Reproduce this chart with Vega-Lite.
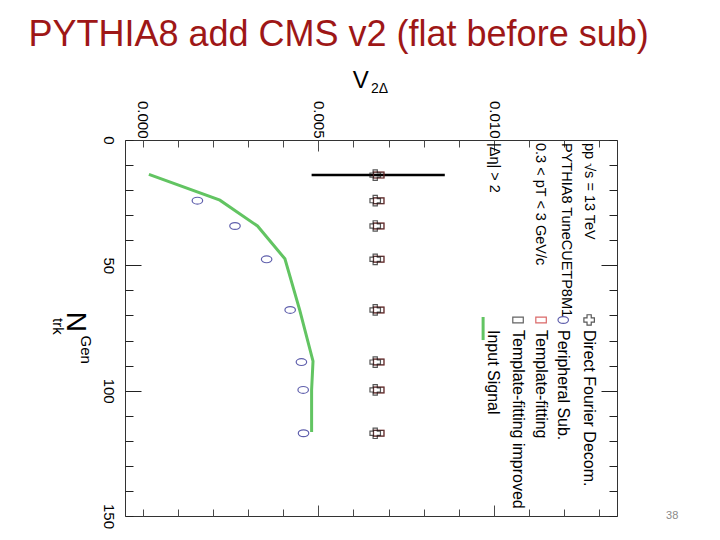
{
  "$schema": "https://vega.github.io/schema/vega-lite/v6.json",
  "width": 492,
  "height": 376,
  "autosize": {"type": "none"},
  "padding": {"left": 125, "top": 140, "right": 103, "bottom": 24},
  "background": "white",
  "config": {
    "view": {"stroke": "#333", "strokeWidth": 1},
    "axis": {"domain": false, "title": null, "labelFlush": false, "labelOverlap": false, "labelBound": false, "labelFont": "Liberation Sans", "labelColor": "#000", "labelFontSize": 15}
  },
  "datasets": {
    "pts": [
      {"n": 14, "v2": 0.00672, "series": "Template-fitting"},
      {"n": 24.2, "v2": 0.00672, "series": "Template-fitting"},
      {"n": 34.3, "v2": 0.00672, "series": "Template-fitting"},
      {"n": 47.6, "v2": 0.00672, "series": "Template-fitting"},
      {"n": 67.8, "v2": 0.00672, "series": "Template-fitting"},
      {"n": 88.6, "v2": 0.00672, "series": "Template-fitting"},
      {"n": 99.7, "v2": 0.00672, "series": "Template-fitting"},
      {"n": 117, "v2": 0.00672, "series": "Template-fitting"},
      {"n": 14, "v2": 0.00672, "series": "Template-fitting improved"},
      {"n": 24.2, "v2": 0.00672, "series": "Template-fitting improved"},
      {"n": 34.3, "v2": 0.00672, "series": "Template-fitting improved"},
      {"n": 47.6, "v2": 0.00672, "series": "Template-fitting improved"},
      {"n": 67.8, "v2": 0.00672, "series": "Template-fitting improved"},
      {"n": 88.6, "v2": 0.00672, "series": "Template-fitting improved"},
      {"n": 99.7, "v2": 0.00672, "series": "Template-fitting improved"},
      {"n": 117, "v2": 0.00672, "series": "Template-fitting improved"},
      {"n": 14, "v2": 0.00662, "series": "Direct Fourier Decom."},
      {"n": 24.2, "v2": 0.00662, "series": "Direct Fourier Decom."},
      {"n": 34.3, "v2": 0.00662, "series": "Direct Fourier Decom."},
      {"n": 47.6, "v2": 0.00662, "series": "Direct Fourier Decom."},
      {"n": 67.8, "v2": 0.00662, "series": "Direct Fourier Decom."},
      {"n": 88.6, "v2": 0.00662, "series": "Direct Fourier Decom."},
      {"n": 99.7, "v2": 0.00662, "series": "Direct Fourier Decom."},
      {"n": 117, "v2": 0.00662, "series": "Direct Fourier Decom."},
      {"n": 24.2, "v2": 0.00156, "series": "Peripheral Sub."},
      {"n": 34.3, "v2": 0.00263, "series": "Peripheral Sub."},
      {"n": 47.6, "v2": 0.00353, "series": "Peripheral Sub."},
      {"n": 67.8, "v2": 0.0042, "series": "Peripheral Sub."},
      {"n": 88.6, "v2": 0.00452, "series": "Peripheral Sub."},
      {"n": 99.7, "v2": 0.00457, "series": "Peripheral Sub."},
      {"n": 117, "v2": 0.00458, "series": "Peripheral Sub."}
    ],
    "signal": [
      {"n": 13.7, "v2": 0.00018},
      {"n": 24, "v2": 0.0022},
      {"n": 34.3, "v2": 0.00327},
      {"n": 47.4, "v2": 0.00405},
      {"n": 67.8, "v2": 0.00447},
      {"n": 88.2, "v2": 0.00485},
      {"n": 99.7, "v2": 0.00481},
      {"n": 116.5, "v2": 0.00481}
    ],
    "err": [{"n": 14, "lo": 0.00481, "hi": 0.0086}],
    "legsym": [
      {"series": "Direct Fourier Decom.", "v2": 0.012707, "n": 71.8},
      {"series": "Peripheral Sub.", "v2": 0.01197, "n": 71.8},
      {"series": "Template-fitting", "v2": 0.011339, "n": 71.8},
      {"series": "Template-fitting improved", "v2": 0.010684, "n": 71.8}
    ],
    "legline": [{"v2": 0.00969, "n1": 70.6, "n2": 79.8}],
    "legtext": [
      {"label": "Direct Fourier Decom.", "v2": 0.012707, "n": 75.8},
      {"label": "Peripheral Sub.", "v2": 0.01197, "n": 75.8},
      {"label": "Template-fitting", "v2": 0.011339, "n": 75.8},
      {"label": "Template-fitting improved", "v2": 0.010684, "n": 75.8},
      {"label": "Input Signal", "v2": 0.009972, "n": 75.8}
    ],
    "headtext": [
      {"label": "pp √s = 13 TeV", "v2": 0.012707, "n": 1.2},
      {"label": "PYTHIA8 TuneCUETP8M1", "v2": 0.012051, "n": 1.2},
      {"label": "0.3 < pT < 3 GeV/c", "v2": 0.011311, "n": 1.2},
      {"label": "|Δη| > 2", "v2": 0.01, "n": 1.2}
    ],
    "ntitle": [{"label": "N", "v2": -0.00191, "n": 72.6}],
    "nsub": [
      {"label": "Gen", "v2": -0.00162, "n": 78},
      {"label": "trk", "v2": -0.00242, "n": 71}
    ],
    "vtitle": [{"label": "V", "v2": 0.00621, "n": -20.7}],
    "vsub": [{"label": "2Δ", "v2": 0.0065, "n": -18.7}],
    "title": [{"label": "PYTHIA8 add CMS v2 (flat before sub)", "v2": -0.003248, "n": -37.5}],
    "page": [{"label": "38", "v2": 0.01507, "n": 150}]
  },
  "resolve": {"axis": {"x": "independent", "y": "independent"}},
  "layer": [
    {
      "data": {"name": "err"},
      "mark": {"type": "rule", "stroke": "#000", "strokeWidth": 2.5},
      "encoding": {
        "x": {"field": "lo", "type": "quantitative",
          "scale": {"domain": [-0.0005, 0.0135], "nice": false, "zero": false},
          "axis": {"orient": "top", "offset": 0,
            "values": [0, 0.001, 0.002, 0.003, 0.004, 0.005, 0.006, 0.007, 0.008, 0.009, 0.01, 0.011, 0.012, 0.013],
            "labelExpr": "(datum.value == 0 || datum.value == 0.005 || datum.value == 0.01) ? format(datum.value, '.3f') : ''",
            "ticks": false, "labelAngle": 90, "labelAlign": "right", "labelBaseline": "middle", "labelPadding": 2,
            "grid": true, "gridColor": "#4a4a4a", "gridWidth": 1,
            "gridDash": {"condition": {"test": "datum.value == 0.005 || datum.value == 0.01", "value": [22, 354]}, "value": [14, 362]},
            "gridDashOffset": {"condition": {"test": "datum.value == 0.005 || datum.value == 0.01", "value": 11}, "value": 7}}},
        "x2": {"field": "hi"},
        "y": {"field": "n", "type": "quantitative",
          "scale": {"domain": [0, 150], "reverse": true, "nice": false, "zero": false},
          "axis": {"orient": "left", "offset": 0,
            "values": [0, 10, 20, 30, 40, 50, 60, 70, 80, 90, 100, 110, 120, 130, 140, 150],
            "labelExpr": "(datum.value == 0 || datum.value == 50 || datum.value == 100 || datum.value == 150) ? datum.label : ''",
            "ticks": false, "labelAngle": 90, "labelAlign": "center", "labelBaseline": "middle", "labelPadding": 17,
            "grid": true, "gridColor": "#222", "gridWidth": 1,
            "gridDash": {"condition": {"test": "datum.value == 50 || datum.value == 100", "value": [32, 460]}, "value": [16, 476]},
            "gridDashOffset": {"condition": {"test": "datum.value == 50 || datum.value == 100", "value": 16}, "value": 8}}}
      }
    },
    {
      "mark": {"type": "rule", "stroke": "#000", "strokeWidth": 4},
      "encoding": {
        "x": {"datum": 0, "type": "quantitative", "axis": null}
      }
    },
    {
      "data": {"name": "signal"},
      "mark": {"type": "line", "stroke": "#62c462", "strokeWidth": 3},
      "encoding": {
        "x": {"field": "v2", "type": "quantitative", "axis": null},
        "y": {"field": "n", "type": "quantitative", "axis": null},
        "order": {"field": "n", "type": "quantitative"}
      }
    },
    {
      "data": {"name": "pts"},
      "mark": {"type": "point", "filled": false, "size": 110, "strokeWidth": 1.2},
      "encoding": {
        "x": {"field": "v2", "type": "quantitative", "axis": null},
        "y": {"field": "n", "type": "quantitative", "axis": null},
        "shape": {"field": "series", "type": "nominal", "legend": null,
          "scale": {"domain": ["Direct Fourier Decom.", "Peripheral Sub.", "Template-fitting", "Template-fitting improved"], "range": ["cross", "M-1,0A1,0.65,0,1,0,1,0A1,0.65,0,1,0,-1,0Z", "M-1,-0.55H1V0.55H-1Z", "M-1,-0.55H1V0.55H-1Z"]}},
        "stroke": {"field": "series", "type": "nominal", "legend": null,
          "scale": {"domain": ["Direct Fourier Decom.", "Peripheral Sub.", "Template-fitting", "Template-fitting improved"], "range": ["#111111", "#1c1c8a", "#cc2a2a", "#222222"]}}
      }
    },
    {
      "data": {"name": "legsym"},
      "mark": {"type": "point", "filled": false, "size": 110, "strokeWidth": 1.2},
      "encoding": {
        "x": {"field": "v2", "type": "quantitative", "axis": null},
        "y": {"field": "n", "type": "quantitative", "axis": null},
        "shape": {"field": "series", "type": "nominal", "legend": null},
        "stroke": {"field": "series", "type": "nominal", "legend": null}
      }
    },
    {
      "data": {"name": "legline"},
      "mark": {"type": "rule", "stroke": "#62c462", "strokeWidth": 3},
      "encoding": {
        "x": {"field": "v2", "type": "quantitative", "axis": null},
        "y": {"field": "n1", "type": "quantitative", "axis": null},
        "y2": {"field": "n2"}
      }
    },
    {
      "data": {"name": "legtext"},
      "mark": {"type": "text", "angle": 90, "align": "left", "baseline": "middle", "font": "Liberation Sans", "fontSize": 16, "fill": "#000"},
      "encoding": {
        "x": {"field": "v2", "type": "quantitative", "axis": null},
        "y": {"field": "n", "type": "quantitative", "axis": null},
        "text": {"field": "label"}
      }
    },
    {
      "data": {"name": "headtext"},
      "mark": {"type": "text", "angle": 90, "align": "left", "baseline": "middle", "font": "Liberation Sans", "fontSize": 14.5, "fill": "#000"},
      "encoding": {
        "x": {"field": "v2", "type": "quantitative", "axis": null},
        "y": {"field": "n", "type": "quantitative", "axis": null},
        "text": {"field": "label"}
      }
    },
    {
      "data": {"name": "ntitle"},
      "mark": {"type": "text", "angle": 90, "align": "center", "baseline": "middle", "font": "Liberation Sans", "fontSize": 28, "fill": "#000"},
      "encoding": {
        "x": {"field": "v2", "type": "quantitative", "axis": null},
        "y": {"field": "n", "type": "quantitative", "axis": null},
        "text": {"field": "label"}
      }
    },
    {
      "data": {"name": "nsub"},
      "mark": {"type": "text", "angle": 90, "align": "left", "baseline": "middle", "font": "Liberation Sans", "fontSize": 15, "fill": "#000"},
      "encoding": {
        "x": {"field": "v2", "type": "quantitative", "axis": null},
        "y": {"field": "n", "type": "quantitative", "axis": null},
        "text": {"field": "label"}
      }
    },
    {
      "data": {"name": "vtitle"},
      "mark": {"type": "text", "align": "center", "baseline": "alphabetic", "font": "Liberation Sans", "fontSize": 24, "fill": "#000"},
      "encoding": {
        "x": {"field": "v2", "type": "quantitative", "axis": null},
        "y": {"field": "n", "type": "quantitative", "axis": null},
        "text": {"field": "label"}
      }
    },
    {
      "data": {"name": "vsub"},
      "mark": {"type": "text", "align": "left", "baseline": "alphabetic", "font": "Liberation Sans", "fontSize": 14, "fill": "#000"},
      "encoding": {
        "x": {"field": "v2", "type": "quantitative", "axis": null},
        "y": {"field": "n", "type": "quantitative", "axis": null},
        "text": {"field": "label"}
      }
    },
    {
      "data": {"name": "title"},
      "mark": {"type": "text", "align": "left", "baseline": "alphabetic", "font": "Liberation Sans", "fontSize": 36, "fill": "#9e1717"},
      "encoding": {
        "x": {"field": "v2", "type": "quantitative", "axis": null},
        "y": {"field": "n", "type": "quantitative", "axis": null},
        "text": {"field": "label"}
      }
    },
    {
      "data": {"name": "page"},
      "mark": {"type": "text", "align": "center", "baseline": "middle", "font": "Liberation Sans", "fontSize": 11, "fill": "#8a8a8a"},
      "encoding": {
        "x": {"field": "v2", "type": "quantitative", "axis": null},
        "y": {"field": "n", "type": "quantitative", "axis": null},
        "text": {"field": "label"}
      }
    }
  ]
}
